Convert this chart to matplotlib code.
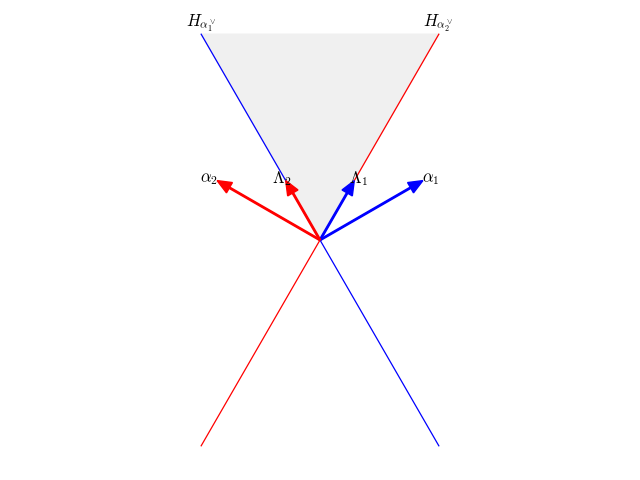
import numpy as np
import matplotlib.pyplot as plt

plt.rcParams['mathtext.fontset'] = 'cm'

s3 = np.sqrt(3)
# vectors: simple roots and fundamental weights of A2
names = [r'$\alpha_1$', r'$\alpha_2$', r'$\Lambda_1$', r'$\Lambda_2$']
vx = [s3 / 2, -s3 / 2, 1 / (2 * s3), -1 / (2 * s3)]
vy = [0.5, 0.5, 0.5, 0.5]
vcolors = ['blue', 'red', 'blue', 'red']
offs = [0.07, 0.07, 0.035, 0.035]

fig = plt.figure(figsize=(6.4, 4.8))
ax = fig.add_axes([0, 0, 1, 1])
ax.set_aspect('equal')
ax.set_xlim(-2.69, 2.69)
ax.set_ylim(-2.02, 2.02)
ax.axis('off')

xs = np.array([-1, 1])
ax.plot(xs, -s3 * xs, color='blue', lw=0.9)
ax.plot(xs, s3 * xs, color='red', lw=0.9)
ax.fill([0, -1, 1], [0, s3, s3], color='#f0f0f0', zorder=0)

ax.text(-1, s3 + 0.0, r'$H_{\alpha_1^\vee}$', ha='center', va='bottom', fontsize=12)
ax.text(1, s3 + 0.0, r'$H_{\alpha_2^\vee}$', ha='center', va='bottom', fontsize=12)

for n, x, y, c, o in zip(names, vx, vy, vcolors, offs):
    ax.arrow(0, 0, x, y, width=0.012, head_width=0.1, head_length=0.12,
             length_includes_head=True, color=c, zorder=3)
    ax.text(x + o * np.sign(x), y + 0.02, n, ha='center', va='center', fontsize=12)

fig.savefig('out.png', dpi=100)
